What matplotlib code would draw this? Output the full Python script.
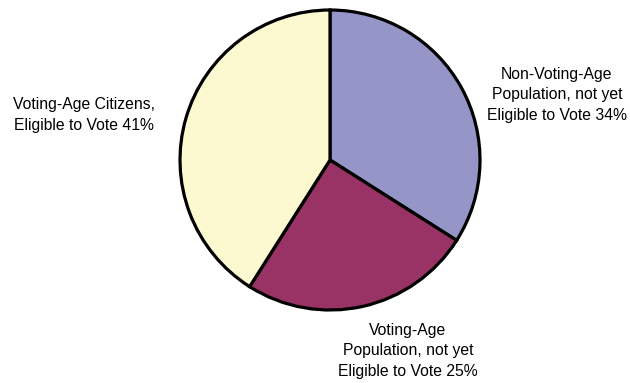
import matplotlib
matplotlib.use("Agg")
import matplotlib.pyplot as plt

labels = [
    "Non-Voting-Age\nPopulation, not yet\nEligible to Vote",
    "Voting-Age\nPopulation, not yet\nEligible to Vote",
    "Voting-Age Citizens,\nEligible to Vote",
]
shares = [34, 25, 41]
colors = ["#9595C8", "#993366", "#FCF8D0"]

W, H = 630, 383
fig = plt.figure(figsize=(W / 100, H / 100), dpi=100)
plt.rcParams["font.family"] = ["Liberation Sans", "DejaVu Sans"]

# pie occupies a square centred at (330, 160) px with radius 150 px
cx, cy, r = 330, 160, 150
ax = fig.add_axes([(cx - r) / W, (H - cy - r) / H, 2 * r / W, 2 * r / H])
ax.pie(shares, colors=colors, startangle=90, counterclock=False,
       wedgeprops=dict(edgecolor="black", linewidth=2.3))
ax.set_xlim(-1, 1)
ax.set_ylim(-1, 1)
ax.set_aspect("auto")
ax.axis("off")

# label anchor points in pixels (centre of each text block)
label_pos = [(557, 95), (408, 351), (84, 115)]
for text, val, (px, py) in zip(labels, shares, label_pos):
    fig.text(px / W, 1 - py / H, f"{text} {val}%", ha="center", va="center",
             fontsize=11.3, linespacing=1.44, color="black")

fig.savefig("out.png", dpi=100)
